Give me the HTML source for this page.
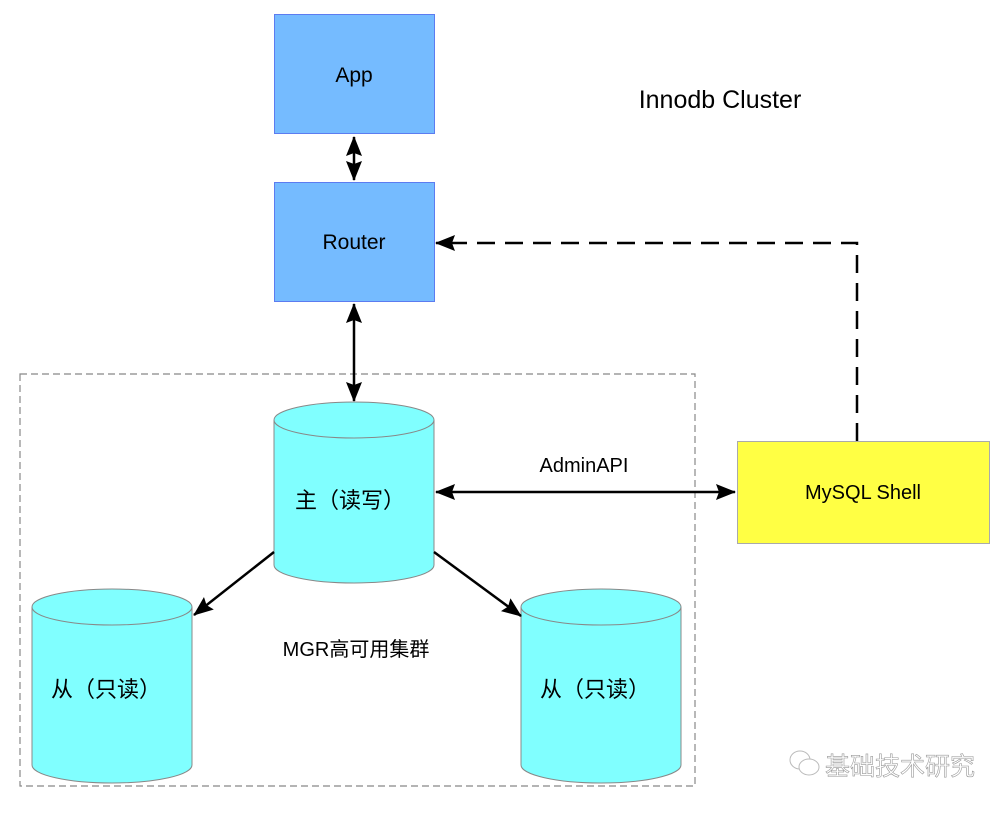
<!DOCTYPE html>
<html><head><meta charset="utf-8"><style>
body{margin:0;background:#fff}
svg text{font-family:"Liberation Sans","Noto Sans CJK SC",sans-serif;fill:#000}
</style></head><body>
<svg width="1007" height="812" viewBox="0 0 1007 812" xmlns="http://www.w3.org/2000/svg">
<defs>
<marker id="ah2" markerWidth="20" markerHeight="20" refX="19" refY="8" orient="auto-start-reverse" markerUnits="userSpaceOnUse" viewBox="0 0 20 16">
<path d="M0,0 L20,8 L0,16 L3,8 Z" fill="#000"/></marker>
</defs>
<rect x="20" y="374" width="675" height="412" fill="none" stroke="#888" stroke-width="1.2" stroke-dasharray="7,4"/>
<rect x="274.5" y="14.5" width="160" height="119" fill="#75BBFF" stroke="#5C7CF0"/>
<text x="354" y="82" font-size="21" text-anchor="middle">App</text>
<rect x="274.5" y="182.5" width="160" height="119" fill="#75BBFF" stroke="#5C7CF0"/>
<text x="354" y="249" font-size="21" text-anchor="middle">Router</text>
<text x="720" y="108" font-size="25" text-anchor="middle">Innodb Cluster</text>
<line x1="354" y1="137" x2="354" y2="180" stroke="#000" stroke-width="2.5" marker-start="url(#ah2)" marker-end="url(#ah2)"/>
<line x1="354" y1="304" x2="354" y2="401" stroke="#000" stroke-width="2.5" marker-start="url(#ah2)" marker-end="url(#ah2)"/>
<polyline points="857,441 857,243 436,243" fill="none" stroke="#000" stroke-width="2.5" stroke-dasharray="18,10" marker-end="url(#ah2)"/>
<rect x="737.5" y="441.5" width="252" height="102" fill="#FFFF44" stroke="#aaa"/>
<text x="863" y="499" font-size="20" text-anchor="middle">MySQL Shell</text>
<line x1="436" y1="492" x2="735" y2="492" stroke="#000" stroke-width="2.5" marker-start="url(#ah2)" marker-end="url(#ah2)"/>
<text x="584" y="472" font-size="20" text-anchor="middle">AdminAPI</text>
<path d="M274,420 L274,565 A80,18 0 0 0 434,565 L434,420" fill="#80FFFF" stroke="#888"/>
<ellipse cx="354" cy="420" rx="80" ry="18" fill="#80FFFF" stroke="#888"/>
<text x="350" y="508" font-size="22" text-anchor="middle">主（读写）</text>
<path d="M32,607 L32,765 A80,18 0 0 0 192,765 L192,607" fill="#80FFFF" stroke="#888"/>
<ellipse cx="112" cy="607" rx="80" ry="18" fill="#80FFFF" stroke="#888"/>
<text x="106" y="697" font-size="22" text-anchor="middle">从（只读）</text>
<path d="M521,607 L521,765 A80,18 0 0 0 681,765 L681,607" fill="#80FFFF" stroke="#888"/>
<ellipse cx="601" cy="607" rx="80" ry="18" fill="#80FFFF" stroke="#888"/>
<text x="595" y="697" font-size="22" text-anchor="middle">从（只读）</text>
<line x1="274" y1="552" x2="194" y2="615" stroke="#000" stroke-width="2.5" marker-end="url(#ah2)"/>
<line x1="434" y1="552" x2="521" y2="616" stroke="#000" stroke-width="2.5" marker-end="url(#ah2)"/>
<text x="356" y="656" font-size="20" text-anchor="middle">MGR高可用集群</text>
<g stroke="#bbb" fill="#fff" stroke-width="1">
<ellipse cx="800" cy="760" rx="10" ry="9"/>
<ellipse cx="809" cy="767" rx="10" ry="8"/>
</g>
<text x="825" y="775" font-size="25" stroke="#999" stroke-width="0.6" style="fill:#fff">基础技术研究</text>
</svg>
</body></html>
